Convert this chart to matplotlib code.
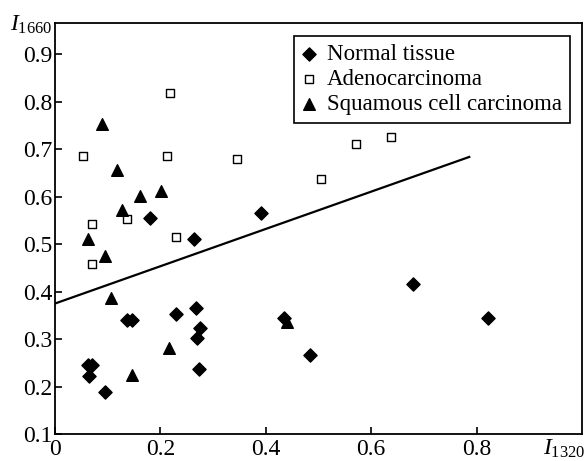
import numpy as np
import matplotlib
matplotlib.use("Agg")
import matplotlib.pyplot as plt

plt.rcParams['font.family'] = ['Liberation Serif', 'DejaVu Serif']
plt.rcParams['mathtext.fontset'] = 'custom'
plt.rcParams['mathtext.rm'] = 'Liberation Serif'
plt.rcParams['mathtext.it'] = 'Liberation Serif:italic'

# Normal tissue
normal_x = [0.180, 0.391, 0.264, 0.136, 0.147, 0.230, 0.267, 0.276, 0.269, 0.273,
            0.062, 0.070, 0.065, 0.094, 0.435, 0.484, 0.680, 0.822]
normal_y = [0.556, 0.566, 0.512, 0.340, 0.340, 0.353, 0.365, 0.323, 0.302, 0.238,
            0.245, 0.245, 0.223, 0.188, 0.344, 0.266, 0.417, 0.345]

# Adenocarcinoma
adeno_x = [0.054, 0.071, 0.136, 0.218, 0.213, 0.345, 0.071, 0.229, 0.505, 0.571, 0.637]
adeno_y = [0.686, 0.542, 0.554, 0.819, 0.686, 0.679, 0.459, 0.515, 0.637, 0.711, 0.726]

# Squamous cell carcinoma
squam_x = [0.089, 0.118, 0.128, 0.162, 0.201, 0.063, 0.095, 0.106, 0.216, 0.147, 0.441]
squam_y = [0.753, 0.656, 0.573, 0.602, 0.612, 0.511, 0.476, 0.386, 0.282, 0.224, 0.337]

# separating line
line_x = [0.0, 0.786]
line_y = [0.375, 0.684]

fig = plt.figure(figsize=(5.84, 4.61), dpi=100)
ax = fig.add_axes([0.0942, 0.0586, 0.9024, 0.8922])

ax.plot(line_x, line_y, color='black', lw=1.6)
ax.scatter(normal_x, normal_y, marker='D', s=45, color='black', label='Normal tissue', zorder=3)
ax.scatter(adeno_x, adeno_y, marker='s', s=30, facecolor='white', edgecolor='black',
           linewidths=1.0, label='Adenocarcinoma', zorder=3)
ax.scatter(squam_x, squam_y, marker='^', s=70, color='black', label='Squamous cell carcinoma', zorder=3)

ax.set_xlim(0, 1.0)
ax.set_ylim(0.1, 0.967)
ax.set_xticks([0, 0.2, 0.4, 0.6, 0.8])
ax.set_xticklabels(['0', '0.2', '0.4', '0.6', '0.8'])
ax.set_yticks([0.1, 0.2, 0.3, 0.4, 0.5, 0.6, 0.7, 0.8, 0.9])
ax.tick_params(direction='in', length=5, width=1.2, labelsize=17)
ax.tick_params(axis='x', pad=3.5)
ax.tick_params(axis='y', pad=2)
for sp in ax.spines.values():
    sp.set_linewidth(1.3)

leg = ax.legend(loc='upper right', bbox_to_anchor=(0.977, 0.968), borderaxespad=0,
                fontsize=16.5, frameon=True, fancybox=False, edgecolor='black',
                handlelength=0.6, handletextpad=0.5, labelspacing=0.18,
                borderpad=0.35, scatterpoints=1)
leg.get_frame().set_linewidth(1.2)
leg.get_frame().set_alpha(1)

fig.text(10 / 584, 1 - 25 / 461, r'$I_{\mathrm{1660}}$', fontsize=17, ha='left', va='center')
fig.text(543 / 584, 1 - 449 / 461, r'$I_{\mathrm{1320}}$', fontsize=17, ha='left', va='center')

fig.savefig('out.png', dpi=100)
